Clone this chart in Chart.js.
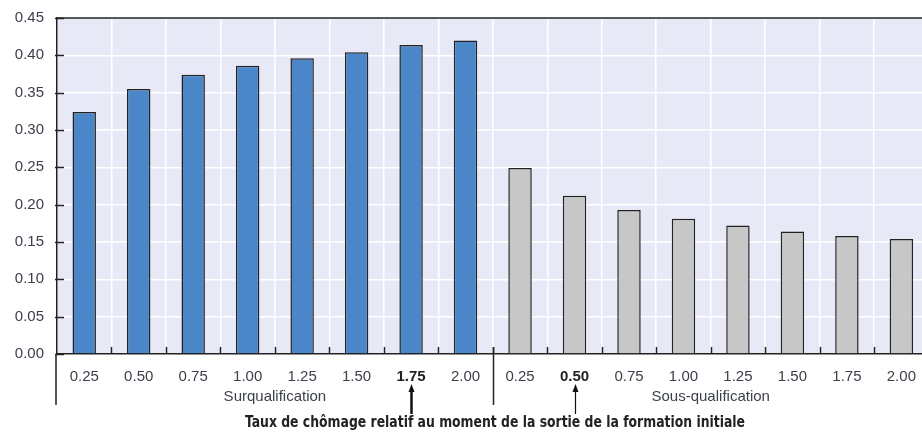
<!DOCTYPE html>
<html>
<head>
<meta charset="utf-8">
<script src="https://cdn.jsdelivr.net/npm/chart.js@4.4.1/dist/chart.umd.min.js"></script>
<style>
    html, body { margin: 0; padding: 0; background: #ffffff; overflow: hidden; }
    #wrap { width: 930px; height: 433px; }
</style>
</head>
<body>
<div id="wrap"><canvas id="chart" width="930" height="433"></canvas></div>
<script>
// Ratios for each group, one bar per category
const tickLabels = ['0.25', '0.50', '0.75', '1.00', '1.25', '1.50', '1.75', '2.00',
                    '0.25', '0.50', '0.75', '1.00', '1.25', '1.50', '1.75', '2.00'];
const surqualification = [0.324, 0.355, 0.374, 0.386, 0.396, 0.404, 0.414, 0.420];
const sousQualification = [0.249, 0.212, 0.193, 0.181, 0.172, 0.164, 0.158, 0.154];
const groupNames = ['Surqualification', 'Sous-qualification'];
const boldTicks = [6, 9];
const yTicks = [0, 0.05, 0.10, 0.15, 0.20, 0.25, 0.30, 0.35, 0.40, 0.45];
const xTitle = 'Taux de chômage relatif au moment de la sortie de la formation initiale';

const blanks = new Array(8).fill(null);
const textColor = '#3b3f4c';
const lineColor = '#222222';

const decorations = {
    id: 'decorations',
    beforeDraw(chart) {
        const { ctx, chartArea: a } = chart;
        ctx.save();
        ctx.fillStyle = '#e7eaf6';
        ctx.fillRect(a.left, a.top, a.right - a.left, a.bottom - a.top);
        ctx.restore();
    },
    afterDraw(chart) {
        const { ctx, chartArea: a } = chart;
        const x = chart.scales.x;
        const y = chart.scales.y;
        const half = (x.getPixelForValue(1) - x.getPixelForValue(0)) / 2;
        ctx.save();
        ctx.strokeStyle = lineColor;
        ctx.lineWidth = 1.5;

        // top frame line
        ctx.beginPath();
        ctx.moveTo(a.left, a.top);
        ctx.lineTo(a.right, a.top);
        ctx.stroke();

        // y tick marks
        yTicks.forEach(v => {
            const py = Math.round(y.getPixelForValue(v)) + 0.5;
            ctx.beginPath();
            ctx.moveTo(a.left - 2, py);
            ctx.lineTo(a.left + 7, py);
            ctx.stroke();
        });

        // x tick marks between categories
        for (let i = 0; i < tickLabels.length; i++) {
            const px = Math.round(x.getPixelForValue(i) + half) + 0.5;
            ctx.beginPath();
            ctx.moveTo(px, a.bottom - 7);
            ctx.lineTo(px, a.bottom);
            ctx.stroke();
        }

        // left axis going down and separator between the two groups
        ctx.beginPath();
        ctx.moveTo(a.left - 1, a.bottom);
        ctx.lineTo(a.left - 1, 405);
        const sep = Math.round(x.getPixelForValue(7) + half) + 0.5;
        ctx.moveTo(sep, a.bottom - 7);
        ctx.lineTo(sep, 405);
        ctx.stroke();

        // group names
        ctx.fillStyle = textColor;
        ctx.font = '15px "Liberation Sans", Arial, sans-serif';
        ctx.textAlign = 'center';
        ctx.textBaseline = 'middle';
        const c1 = (x.getPixelForValue(3) + x.getPixelForValue(4)) / 2;
        const c2 = (x.getPixelForValue(11) + x.getPixelForValue(12)) / 2;
        ctx.fillText(groupNames[0], c1, 397);
        ctx.fillText(groupNames[1], c2, 397);

        // arrows under the highlighted ticks
        boldTicks.forEach((i, k) => {
            const px = Math.round(x.getPixelForValue(i)) + 0.5;
            ctx.strokeStyle = '#111111';
            ctx.fillStyle = '#111111';
            ctx.lineWidth = k === 0 ? 2.5 : 1.2;
            ctx.beginPath();
            ctx.moveTo(px, 414);
            ctx.lineTo(px, 390);
            ctx.stroke();
            ctx.beginPath();
            ctx.moveTo(px, 384);
            ctx.lineTo(px - 3, 392);
            ctx.lineTo(px + 3, 392);
            ctx.closePath();
            ctx.fill();
        });

        // axis title, squeezed to a narrow bold look
        ctx.fillStyle = '#222222';
        ctx.font = 'bold 16px "DejaVu Sans Condensed", "Liberation Sans", sans-serif';
        const w = ctx.measureText(xTitle).width;
        ctx.translate(495, 423);
        ctx.scale(500 / w, 1);
        ctx.fillText(xTitle, 0, 0);
        ctx.restore();
    }
};

new Chart(document.getElementById('chart'), {
    type: 'bar',
    data: {
        labels: tickLabels,
        datasets: [{
            data: surqualification.concat(blanks),
            backgroundColor: '#4a86c8',
            borderColor: lineColor,
            borderWidth: 1.5,
            grouped: false
        }, {
            data: blanks.concat(sousQualification),
            backgroundColor: '#c7c7c7',
            borderColor: lineColor,
            borderWidth: 1.5,
            grouped: false
        }]
    },
    options: {
        responsive: false,
        animation: false,
        events: [],
        layout: { padding: { top: 18, right: 1, left: 0, bottom: 0 } },
        datasets: {
            bar: { categoryPercentage: 1, barPercentage: 0.43 }
        },
        plugins: {
            legend: { display: false },
            tooltip: { enabled: false }
        },
        scales: {
            x: {
                offset: true,
                grid: {
                    offset: true,
                    color: '#ffffff',
                    lineWidth: 1.5,
                    drawTicks: false
                },
                border: { display: true, color: lineColor, width: 1.5 },
                ticks: {
                    padding: 14,
                    maxRotation: 0,
                    autoSkip: false,
                    color: ctx => boldTicks.includes(ctx.index) ? '#222222' : textColor,
                    font: ctx => ({
                        family: '"Liberation Sans", Arial, sans-serif',
                        size: 15,
                        weight: boldTicks.includes(ctx.index) ? 'bold' : 'normal'
                    })
                },
                afterFit(scale) { scale.height = 79; }
            },
            y: {
                min: 0,
                max: 0.45,
                grid: {
                    color: '#ffffff',
                    lineWidth: 1.5,
                    drawTicks: false
                },
                border: { display: true, color: lineColor, width: 1.5 },
                ticks: {
                    stepSize: 0.05,
                    padding: 13,
                    color: textColor,
                    font: { family: '"Liberation Sans", Arial, sans-serif', size: 15 },
                    callback: v => v.toFixed(2)
                },
                afterFit(scale) {
                    scale.width = 57;
                    scale.paddingTop = 0;
                    scale.paddingBottom = 0;
                }
            }
        }
    },
    plugins: [decorations]
});
</script>
</body>
</html>
